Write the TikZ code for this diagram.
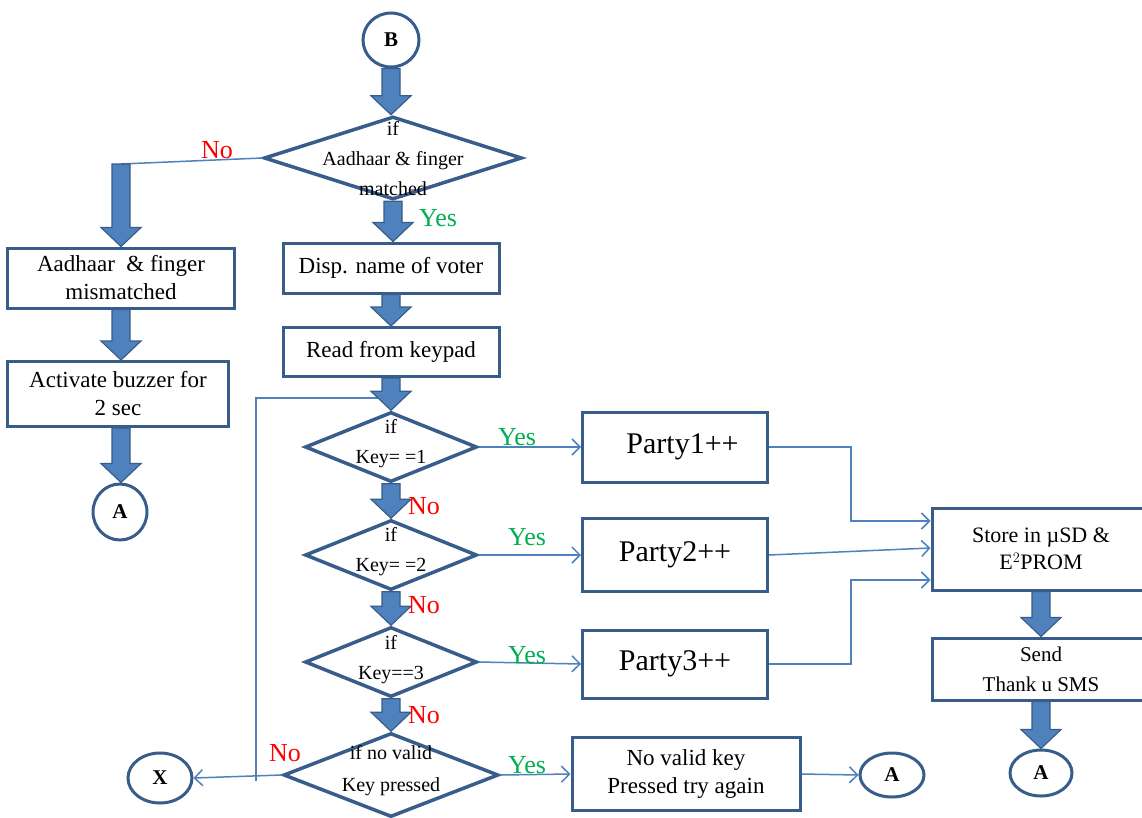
\documentclass[tikz,border=0pt]{standalone}
\usepackage{fontspec}
\setmainfont{Liberation Serif}
\usetikzlibrary{shapes,arrows,arrows.meta,calc}

\newcommand{\bigarrow}[2]{%
\path[draw=lineColor,line width=1.2pt,line join=miter,fill=arrowColor] let \p1=(#1), \p2=(#2) in
	(\x1-9pt,\y1) -- (\x1+9pt,\y1) --
	(\x1+9pt,\y2+19pt) -- (\x1+20pt,\y2+19pt) --
	(\x1,\y2) --
	(\x1-20pt,\y2+19pt) -- (\x1-9pt,\y2+19pt) --
	cycle;}

\tikzset{
  procbox/.style={draw=lineColor,line width=3pt,fill=white,rectangle,inner sep=0pt,align=center,font=\fontsize{23}{28}\selectfont},
  decision/.style={draw=lineColor,line width=3.5pt,fill=white,diamond,inner sep=0pt},
  decitext/.style={align=center,inner sep=0pt,font=\fontsize{20}{30}\selectfont},
  connector/.style={draw=lineColor,line width=3pt,fill=white,ellipse,inner sep=0pt,font=\fontsize{21}{21}\selectfont\bfseries},
  flowline/.style={draw=arrowColor,line width=1.5pt},
  flowarrow/.style={flowline,-{Straight Barb[length=8pt,width=16pt,line width=1.5pt]}},
  yeslabel/.style={text=yesColor,inner sep=0pt,font=\fontsize{26}{26}\selectfont},
  nolabel/.style={text=noColor,inner sep=0pt,font=\fontsize{26}{26}\selectfont}
}

\begin{document}
\begin{tikzpicture}[x=1pt,y=-1pt]
\definecolor{lineColor}{RGB}{56,93,138}
\definecolor{arrowColor}{RGB}{79,129,189}
\definecolor{yesColor}{RGB}{0,176,80}
\definecolor{noColor}{RGB}{255,0,0}
\path[use as bounding box,fill=white] (0,0) rectangle (1142,817);
\clip (0,0) rectangle (1142,817);

\node[connector,minimum width=56,minimum height=54] (B) at (391,40) {B};
\node[decision,minimum width=258,minimum height=83] (match) at (393,158) {};
\node[procbox,minimum width=216,minimum height=50] (disp) at (391,268) {Disp. name of voter};
\node[procbox,minimum width=216,minimum height=49] (read) at (391,352) {Read from keypad};
\node[decision,minimum width=172,minimum height=70] (key1) at (391,447) {};
\node[decision,minimum width=172,minimum height=70] (key2) at (391,555) {};
\node[decision,minimum width=172,minimum height=70] (key3) at (391,662) {};
\node[decision,minimum width=215,minimum height=84] (novalid) at (391,775) {};

\node[decitext] (matchtext) at (393,159) {if\\Aadhaar \& finger\\matched};
\node[decitext] (key1text) at (391,444) {if\\Key= =1};
\node[decitext] (key2text) at (391,552) {if\\Key= =2};
\node[decitext] (key3text) at (391,660) {if\\Key==3};
\node[decitext,font=\fontsize{20}{32}\selectfont] (novalidtext) at (391,771) {if no valid\\Key pressed};

\node[procbox,minimum width=227,minimum height=60] (mismatch) at (121,278) {Aadhaar \ \& finger\\mismatched};
\node[procbox,minimum width=221,minimum height=65] (buzzer) at (118,394) {Activate buzzer for\\2 sec};
\node[connector,minimum width=54,minimum height=56] (A1) at (120,512) {A};
\node[connector,minimum width=64,minimum height=50] (X) at (160,778) {X};

\node[procbox,minimum width=185,minimum height=70,font=\fontsize{30}{30}\selectfont] (party1) at (675,447) {\ \ Party1++};
\node[procbox,minimum width=185,minimum height=73,font=\fontsize{30}{30}\selectfont] (party2) at (675,555) {Party2++};
\node[procbox,minimum width=185,minimum height=68,font=\fontsize{30}{30}\selectfont] (party3) at (675,664) {Party3++};
\node[procbox,minimum width=228,minimum height=73] (tryagain) at (686,774) {No valid key\\Pressed try again};
\node[connector,minimum width=64,minimum height=44] (A2) at (892,775) {A};

\node[procbox,minimum width=218,minimum height=82,font=\fontsize{22}{27}\selectfont] (store) at (1041,549) {Store in µSD \&\\E$^{2}$PROM};
\node[procbox,minimum width=218,minimum height=62,font=\fontsize{21}{30}\selectfont] (sms) at (1041,669) {Send\\Thank u SMS};
\node[connector,minimum width=62,minimum height=46] (A3) at (1041,773) {A};

\coordinate (noA) at (121,164);
\coordinate (loopbot) at (256,781);
\coordinate (looptop) at (380,398);

\draw[flowline] (match.west) -- (noA);
\draw[flowline] (loopbot) |- (looptop);
\draw[flowarrow] (novalid.west) -- (X.east);
\draw[flowarrow] (key1.east) -- (party1.west);
\draw[flowarrow] (key2.east) -- (party2.west);
\draw[flowarrow] (key3.east) -- (party3.west);
\draw[flowarrow] (novalid.east) -- (tryagain.west);
\draw[flowarrow] (tryagain.east) -- (A2.west);
\draw[flowarrow] (party1.east) -- ++(82,0) |- ($(store.west)+(0,-28)$);
\draw[flowarrow] (party2.east) -- ($(store.west)+(0,-1)$);
\draw[flowarrow] (party3.east) -- ++(82,0) |- ($(store.west)+(0,31)$);

\bigarrow{B.south}{match.north}
\bigarrow{match.south}{disp.north}
\bigarrow{disp.south}{read.north}
\bigarrow{read.south}{key1.north}
\bigarrow{key1.south}{key2.north}
\bigarrow{key2.south}{key3.north}
\bigarrow{key3.south}{novalid.north}
\bigarrow{noA}{mismatch.north}
\bigarrow{mismatch.south}{buzzer.north}
\bigarrow{mismatch.south |- buzzer.south}{A1.north}
\bigarrow{store.south}{sms.north}
\bigarrow{sms.south}{A3.north}

\node[nolabel] (nomatch) at (217,150) {No};
\node[yeslabel] (yesmatch) at (438,218) {Yes};
\node[yeslabel] (yes1) at (517,437) {Yes};
\node[nolabel] (no1) at (424,506) {No};
\node[yeslabel] (yes2) at (527,537) {Yes};
\node[nolabel] (no2) at (424,605) {No};
\node[yeslabel] (yes3) at (527,655) {Yes};
\node[nolabel] (no3) at (424,715) {No};
\node[yeslabel] (yes4) at (527,765) {Yes};
\node[nolabel] (no4) at (285,753) {No};
\end{tikzpicture}
\end{document}
